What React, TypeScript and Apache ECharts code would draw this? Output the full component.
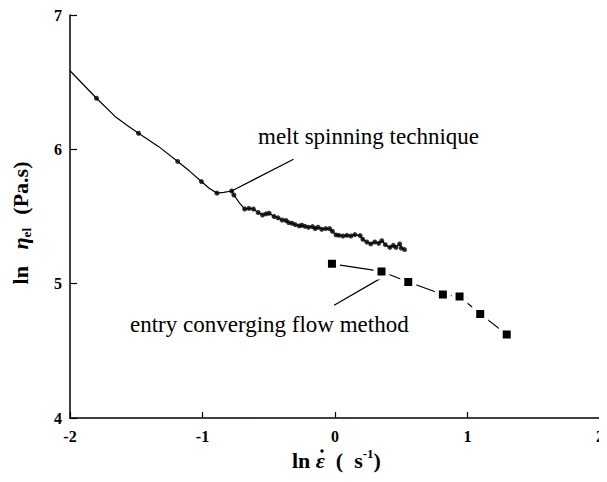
import React, { useEffect, useRef } from "react";
import * as echarts from "echarts";

// Melt spinning technique (ln strain rate, ln elongational viscosity)
const meltX = [-2.0, -1.8, -1.66, -1.57, -1.483, -1.33, -1.187, -1.1, -1.008, -0.95, -0.891, -0.84, -0.78, -0.763, -0.72, -0.682, -0.65, -0.616, -0.58, -0.547, -0.52, -0.497, -0.46, -0.43, -0.399, -0.37, -0.35, -0.325, -0.3, -0.27, -0.25, -0.226, -0.2, -0.17, -0.15, -0.128, -0.1, -0.07, -0.041, -0.02, 0.008, 0.03, 0.06, 0.09, 0.12, 0.15, 0.19, 0.21, 0.24, 0.27, 0.3, 0.33, 0.353, 0.38, 0.414, 0.44, 0.46, 0.488, 0.5, 0.525];
const meltY = [6.585, 6.38, 6.245, 6.18, 6.12, 6.02, 5.91, 5.84, 5.76, 5.71, 5.674, 5.68, 5.69, 5.66, 5.6, 5.556, 5.56, 5.556, 5.53, 5.511, 5.52, 5.524, 5.5, 5.49, 5.474, 5.47, 5.455, 5.45, 5.44, 5.43, 5.435, 5.427, 5.42, 5.425, 5.41, 5.42, 5.405, 5.41, 5.41, 5.39, 5.363, 5.36, 5.355, 5.36, 5.355, 5.365, 5.358, 5.33, 5.31, 5.296, 5.31, 5.3, 5.32, 5.29, 5.27, 5.285, 5.27, 5.296, 5.265, 5.254];
const meltDot = [0, 1, 0, 0, 1, 0, 1, 0, 1, 0, 1, 0, 1, 1, 0, 1, 1, 1, 1, 1, 1, 1, 1, 1, 1, 1, 1, 1, 1, 1, 1, 1, 1, 1, 1, 1, 1, 1, 1, 1, 1, 1, 1, 1, 1, 1, 1, 1, 1, 1, 1, 1, 1, 1, 1, 1, 1, 1, 1, 1];

// Entry converging flow method
const entryX = [-0.023, 0.351, 0.553, 0.814, 0.94, 1.096, 1.296];
const entryY = [5.148, 5.091, 5.012, 4.919, 4.904, 4.775, 4.622];

// Annotation leader lines (data coords)
const meltLeaderX = [-0.313, -0.78];
const meltLeaderY = [5.926, 5.69];
const entryLeaderX = [-0.007, 0.38];
const entryLeaderY = [4.84, 5.06];

const xTicks = [-2, 2, 1];
const yTicks = [4, 7, 1];

const FONT = "'Liberation Serif', 'Times New Roman', serif";

export default function App() {
  const ref = useRef<HTMLDivElement>(null);
  useEffect(() => {
    if (!ref.current) return;
    const chart = echarts.init(ref.current, undefined, { renderer: "svg" });
    const pair = (xs: number[], ys: number[]) => xs.map((x, i) => [x, ys[i]]);
    const bold = { fontFamily: FONT, fontWeight: "bold", fill: "#000" };
    const option: any = {
      animation: false,
      backgroundColor: "#fff",
      grid: { left: 70, right: -4, top: 15, bottom: 64 },
      xAxis: {
        type: "value",
        min: xTicks[0],
        max: xTicks[1],
        interval: xTicks[2],
        axisLine: { onZero: false, lineStyle: { color: "#000", width: 1.5 } },
        axisTick: { inside: true, length: 6, lineStyle: { color: "#000", width: 1.2 } },
        axisLabel: { color: "#000", fontFamily: FONT, fontWeight: "bold", fontSize: 16, margin: 10 },
        splitLine: { show: false },
      },
      yAxis: {
        type: "value",
        min: yTicks[0],
        max: yTicks[1],
        interval: yTicks[2],
        axisLine: { onZero: false, lineStyle: { color: "#000", width: 1.5 } },
        axisTick: { inside: true, length: 7, lineStyle: { color: "#000", width: 1.2 } },
        axisLabel: { color: "#000", fontFamily: FONT, fontWeight: "bold", fontSize: 16, margin: 8 },
        splitLine: { show: false },
      },
      series: [
        {
          type: "line",
          data: pair(meltX, meltY),
          showSymbol: false,
          symbol: "none",
          lineStyle: { color: "#000", width: 1.2 },
          z: 2,
        },
        {
          type: "scatter",
          data: pair(meltX, meltY).filter((_, i) => meltDot[i] === 1),
          symbol: "circle",
          symbolSize: 5,
          itemStyle: { color: "#000" },
          z: 3,
        },
        {
          type: "line",
          data: pair(entryX, entryY),
          symbol: "rect",
          symbolSize: 12,
          itemStyle: { color: "#000", borderColor: "#fff", borderWidth: 4 },
          lineStyle: { color: "#000", width: 1.2 },
          z: 3,
        },
        {
          type: "line",
          data: pair(meltLeaderX, meltLeaderY),
          showSymbol: false,
          symbol: "none",
          lineStyle: { color: "#000", width: 1.2 },
          z: 1,
        },
        {
          type: "line",
          data: pair(entryLeaderX, entryLeaderY),
          showSymbol: false,
          symbol: "none",
          lineStyle: { color: "#000", width: 1.2 },
          z: 1,
        },
      ],
      graphic: [
        {
          type: "text",
          x: 258,
          y: 136,
          style: {
            text: "melt spinning technique",
            fontFamily: FONT,
            fontSize: 23,
            fill: "#000",
            align: "left",
            verticalAlign: "middle",
          },
        },
        {
          type: "text",
          x: 130,
          y: 324,
          style: {
            text: "entry converging flow method",
            fontFamily: FONT,
            fontSize: 23,
            fill: "#000",
            align: "left",
            verticalAlign: "middle",
          },
        },
        {
          type: "text",
          x: 292,
          y: 460,
          style: {
            text: "{b|ln }{i|\u03B5}{b|  (  s}{sup|-1}{b|)}",
            align: "left",
            verticalAlign: "middle",
            rich: {
              b: { ...bold, fontSize: 22, lineHeight: 26 },
              i: { ...bold, fontStyle: "italic", fontSize: 22, lineHeight: 26 },
              sup: { ...bold, fontSize: 13, lineHeight: 26, verticalAlign: "top" },
            },
          },
        },
        {
          type: "circle",
          z: 100,
          shape: { cx: 322, cy: 451, r: 1.7 },
          style: { fill: "#000" },
        },
        {
          type: "text",
          x: 20,
          y: 223,
          rotation: Math.PI / 2,
          style: {
            text: "{b|ln}     {i|\u03B7}{sub|el}    {b|(Pa.s)}",
            align: "center",
            verticalAlign: "middle",
            rich: {
              b: { ...bold, fontSize: 22, lineHeight: 26 },
              i: { ...bold, fontStyle: "italic", fontSize: 22, lineHeight: 26 },
              sub: { ...bold, fontSize: 13, lineHeight: 26, verticalAlign: "bottom" },
            },
          },
        },
      ],
    };
    chart.setOption(option);
    return () => chart.dispose();
  }, []);
  return <div ref={ref} style={{ width: 607, height: 482, margin: -8 }} />;
}
